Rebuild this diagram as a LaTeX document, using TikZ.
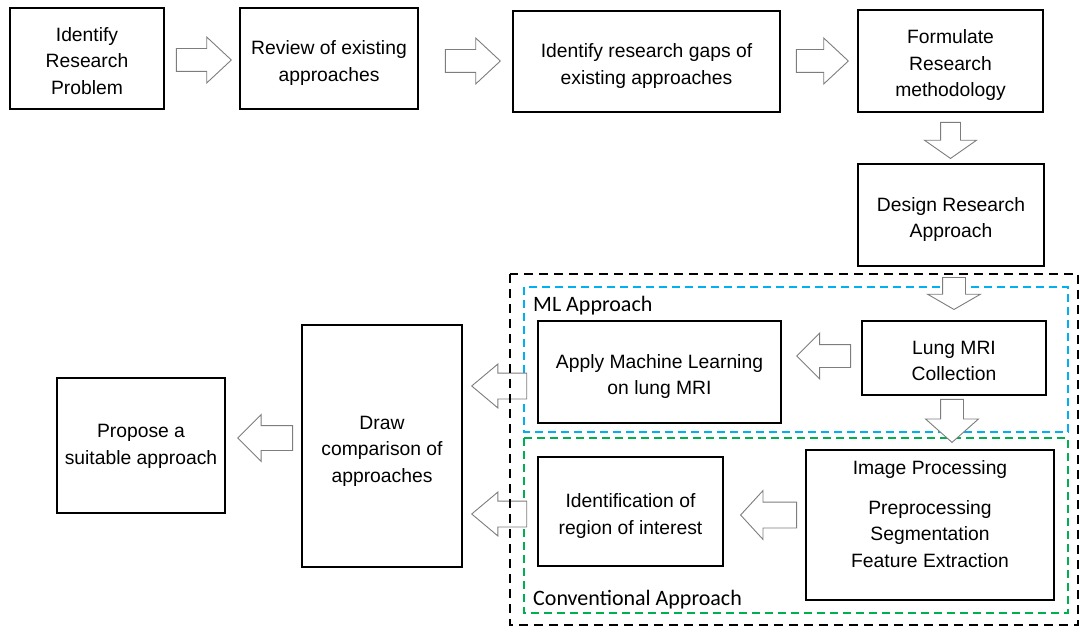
\documentclass[tikz,border=0pt]{standalone}
\usepackage{fontspec}
\setmainfont{Liberation Sans}
\newfontfamily\labelfont{Carlito}
\usetikzlibrary{shapes.arrows, positioning, calc}
\definecolor{arrowGray}{RGB}{125, 125, 125}
\definecolor{mlBlue}{RGB}{0, 176, 240}
\definecolor{convGreen}{RGB}{0, 176, 80}
\tikzset{
    stage_box/.style={
        draw,
        line width=1.4pt,
        fill=white,
        align=center,
        inner sep=2pt,
        text depth=4pt,
        font=\fontsize{19.3}{26.5}\selectfont
    },
    two_lines/.style={
        stage_box,
        text height=49.5pt
    },
    three_lines/.style={
        stage_box,
        text height=76pt
    },
    block_arrow/.style={
        single arrow,
        anchor=tip,
        draw=arrowGray,
        fill=white,
        line width=0.9pt,
        inner sep=11pt,
        single arrow head extend=11.5pt,
        single arrow head indent=0pt,
        minimum height=55pt
    },
    outer_frame/.style={
        draw=black,
        line width=2.4pt,
        dash pattern=on 9pt off 6pt
    },
    ml_frame/.style={
        draw=mlBlue,
        line width=2pt,
        dash pattern=on 8pt off 5pt
    },
    conv_frame/.style={
        ml_frame,
        draw=convGreen
    },
    frame_label/.style={
        anchor=west,
        inner sep=0pt,
        font=\labelfont\fontsize{22}{24}\selectfont
    }
}

\begin{document}
\begin{tikzpicture}[x=1pt, y=-1pt]
    \useasboundingbox (0,0) rectangle (1081,628);

    % top row
    \node[three_lines, minimum width=154pt, minimum height=101pt] (idprob) at (87,58.5) {Identify\\Research\\Problem};
    \node[two_lines, minimum width=178pt, minimum height=101pt] (review) at (329,58.5) {Review of existing\\approaches};
    \node[two_lines, minimum width=267pt, minimum height=101pt] (gaps) at (646.5,61.5) {Identify research gaps of\\existing approaches};
    \node[three_lines, minimum width=185pt, minimum height=102pt] (formulate) at (950.5,61) {Formulate\\Research\\methodology};
    \node[two_lines, minimum width=186pt, minimum height=102pt] (design) at (951,215) {Design Research\\Approach};

    \node[block_arrow, single arrow tip angle=86] (a1) at (232,60) {};
    \node[block_arrow, single arrow tip angle=86] (a2) at (501,61) {};
    \node[block_arrow, single arrow tip angle=86, minimum height=52pt] (a3) at (849,61) {};
    \node[block_arrow, shape border rotate=270, inner sep=9.5pt, single arrow head extend=16pt,
          single arrow tip angle=110, minimum height=36pt] (a4) at (950.5,159) {};

    % ML approach
    \draw[ml_frame] (524,287) rectangle (1068,432);
    \node[frame_label] (mllabel) at (533,306) {ML Approach};
    \node[two_lines, minimum width=184pt, minimum height=74pt] (lung) at (954,358) {Lung MRI\\Collection};
    \node[two_lines, minimum width=243pt, minimum height=102pt] (applyml) at (659.5,372) {Apply Machine Learning\\on lung MRI};
    \node[block_arrow, shape border rotate=180, single arrow tip angle=90, minimum height=54pt] (a7) at (796,356) {};

    % conventional approach
    \draw[conv_frame] (524,438) rectangle (1068,613);
    \node[frame_label] (convlabel) at (533,600) {Conventional Approach};
    \node[stage_box, minimum width=248pt, minimum height=150pt] (imgproc) at (930,525) {};
    \node[align=center, inner sep=0pt, font=\fontsize{19.3}{26.5}\selectfont] (imgtext) at (930,514)
        {Image Processing\\[13pt]Preprocessing\\Segmentation\\Feature Extraction};
    \node[two_lines, minimum width=185pt, minimum height=109pt] (roi) at (630.5,511.5) {Identification of\\region of interest};
    \node[block_arrow, shape border rotate=180, inner sep=12.5pt, single arrow head extend=11.5pt,
          single arrow tip angle=95, minimum height=56pt] (a8) at (740,515) {};

    \node[block_arrow, shape border rotate=270, single arrow head extend=15pt,
          single arrow tip angle=120, minimum height=32pt] (a5) at (954,310) {};
    \node[block_arrow, shape border rotate=270, single arrow head extend=15pt,
          single arrow tip angle=97, minimum height=43pt] (a6) at (952,443) {};

    % comparison and proposal
    \node[three_lines, minimum width=160pt, minimum height=242pt] (compare) at (382,446) {Draw\\comparison of\\approaches};
    \node[two_lines, text height=41.5pt, minimum width=168pt, minimum height=135pt] (propose) at (141,445.5) {Propose a\\suitable approach};
    \node[block_arrow, shape border rotate=180, inner sep=12.5pt, single arrow head extend=9pt,
          single arrow tip angle=80] (a9) at (471,386) {};
    \node[block_arrow, shape border rotate=180, inner sep=12.5pt, single arrow head extend=9pt,
          single arrow tip angle=80] (a10) at (471,514) {};
    \node[block_arrow, shape border rotate=180, inner sep=12pt, single arrow head extend=11pt,
          single arrow tip angle=90] (a11) at (237,438) {};

    \draw[outer_frame] (510,274) rectangle (1078,625);
\end{tikzpicture}
\end{document}
